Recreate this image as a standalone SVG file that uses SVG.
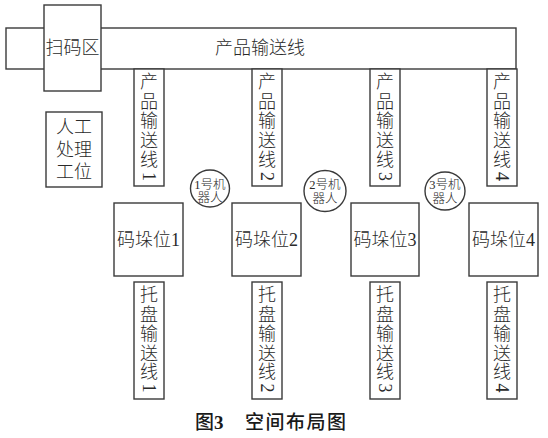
<svg xmlns="http://www.w3.org/2000/svg" width="548" height="438" viewBox="0 0 548 438">
<style>
.b{fill:#fff;stroke:#3a3a3a;stroke-width:1.4}
.t{font-family:"Liberation Serif","Noto Sans CJK SC",serif;font-size:18px;fill:#2a2a2a;text-anchor:middle;dominant-baseline:central;font-weight:300}
.s{font-family:"Liberation Serif","Noto Sans CJK SC",serif;font-size:12.5px;fill:#2a2a2a;text-anchor:middle;dominant-baseline:central;font-weight:300}
.c{font-family:"Noto Sans CJK SC",sans-serif;font-size:19px;fill:#1a1a1a;font-weight:500}
</style>
<rect width="548" height="438" fill="#fff"/>
<g id="main-conveyor">
<rect class="b" x="6" y="28" width="510" height="41"/>
<text class="t" x="260" y="48">产品输送线</text>
</g>
<g id="scan-zone">
<rect class="b" x="44" y="5" width="57" height="86"/>
<text class="t" x="72.5" y="48">扫码区</text>
</g>
<g id="manual-station">
<rect class="b" x="46" y="112" width="56" height="75"/>
<text class="t" x="74" y="127">人工</text>
<text class="t" x="74" y="150">处理</text>
<text class="t" x="74" y="172">工位</text>
</g>
<g id="product-line-1">
<rect class="b" x="134" y="69" width="30" height="117"/>
<text class="t" x="149" y="82">产</text><text class="t" x="149" y="101.5">品</text><text class="t" x="149" y="121">输</text><text class="t" x="149" y="140.5">送</text><text class="t" x="149" y="160">线</text>
<text class="t" transform="translate(149,176.5) rotate(90)">1</text>
</g>
<g id="product-line-2">
<rect class="b" x="252" y="69" width="30" height="117"/>
<text class="t" x="267" y="82">产</text><text class="t" x="267" y="101.5">品</text><text class="t" x="267" y="121">输</text><text class="t" x="267" y="140.5">送</text><text class="t" x="267" y="160">线</text>
<text class="t" transform="translate(267,176.5) rotate(90)">2</text>
</g>
<g id="product-line-3">
<rect class="b" x="370" y="69" width="30" height="117"/>
<text class="t" x="385" y="82">产</text><text class="t" x="385" y="101.5">品</text><text class="t" x="385" y="121">输</text><text class="t" x="385" y="140.5">送</text><text class="t" x="385" y="160">线</text>
<text class="t" transform="translate(385,176.5) rotate(90)">3</text>
</g>
<g id="product-line-4">
<rect class="b" x="487" y="69" width="30" height="117"/>
<text class="t" x="502" y="82">产</text><text class="t" x="502" y="101.5">品</text><text class="t" x="502" y="121">输</text><text class="t" x="502" y="140.5">送</text><text class="t" x="502" y="160">线</text>
<text class="t" transform="translate(502,176.5) rotate(90)">4</text>
</g>
<g id="robot-1">
<ellipse class="b" cx="210" cy="188.5" rx="19.5" ry="18.5"/>
<text class="s" x="210" y="184.5">1号机</text>
<text class="s" x="210" y="198">器人</text>
</g>
<g id="robot-2">
<ellipse class="b" cx="325" cy="191" rx="21" ry="20.5"/>
<text class="s" x="325" y="185">2号机</text>
<text class="s" x="325" y="198.5">器人</text>
</g>
<g id="robot-3">
<ellipse class="b" cx="445" cy="191" rx="20" ry="19"/>
<text class="s" x="445" y="185">3号机</text>
<text class="s" x="445" y="198.5">器人</text>
</g>
<g id="stack-1">
<rect class="b" x="114" y="203" width="69" height="73"/>
<text class="t" x="148.5" y="240">码垛位1</text>
</g>
<g id="stack-2">
<rect class="b" x="232" y="203" width="69" height="73"/>
<text class="t" x="266.5" y="240">码垛位2</text>
</g>
<g id="stack-3">
<rect class="b" x="351" y="203" width="68" height="73"/>
<text class="t" x="385" y="240">码垛位3</text>
</g>
<g id="stack-4">
<rect class="b" x="469" y="203" width="69" height="73"/>
<text class="t" x="503.5" y="240">码垛位4</text>
</g>
<g id="tray-line-1">
<rect class="b" x="134" y="282" width="30" height="117"/>
<text class="t" x="149" y="295">托</text><text class="t" x="149" y="314.5">盘</text><text class="t" x="149" y="334">输</text><text class="t" x="149" y="353.5">送</text><text class="t" x="149" y="372">线</text>
<text class="t" transform="translate(149,388) rotate(90)">1</text>
</g>
<g id="tray-line-2">
<rect class="b" x="252" y="282" width="30" height="117"/>
<text class="t" x="267" y="295">托</text><text class="t" x="267" y="314.5">盘</text><text class="t" x="267" y="334">输</text><text class="t" x="267" y="353.5">送</text><text class="t" x="267" y="372">线</text>
<text class="t" transform="translate(267,388) rotate(90)">2</text>
</g>
<g id="tray-line-3">
<rect class="b" x="370" y="282" width="30" height="117"/>
<text class="t" x="385" y="295">托</text><text class="t" x="385" y="314.5">盘</text><text class="t" x="385" y="334">输</text><text class="t" x="385" y="353.5">送</text><text class="t" x="385" y="372">线</text>
<text class="t" transform="translate(385,388) rotate(90)">3</text>
</g>
<g id="tray-line-4">
<rect class="b" x="487" y="282" width="30" height="117"/>
<text class="t" x="502" y="295">托</text><text class="t" x="502" y="314.5">盘</text><text class="t" x="502" y="334">输</text><text class="t" x="502" y="353.5">送</text><text class="t" x="502" y="372">线</text>
<text class="t" transform="translate(502,388) rotate(90)">4</text>
</g>
<g id="caption">
<text class="c" x="195" y="429">图<tspan font-family="Liberation Serif" font-weight="bold">3</tspan></text>
<text class="c" x="245" y="429" letter-spacing="1.5">空间布局图</text>
</g>
</svg>
